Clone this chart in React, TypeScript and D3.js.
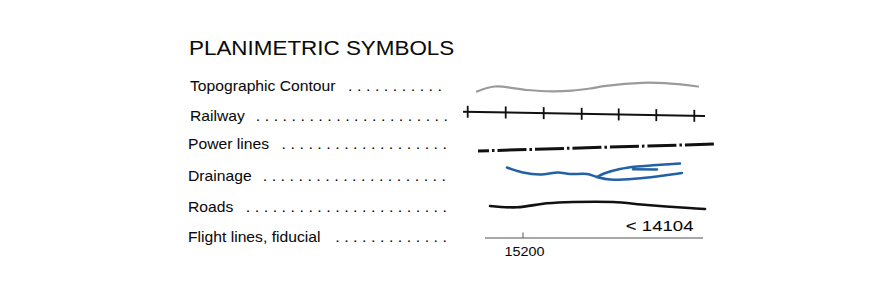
import React from "react";
import * as d3 from "d3";

// ---- data ----
const title = "PLANIMETRIC SYMBOLS";
const categories = [
  "Topographic Contour",
  "Railway",
  "Power lines",
  "Drainage",
  "Roads",
  "Flight lines, fiducial",
];
const leaderDots = [11, 22, 19, 21, 23, 13];

// symbol shapes in local units (x: along symbol, y: offset from row centre)
const contourPts: [number, number][] = [
  [12, 3.5], [30, -1.5], [62, 2], [87, 3.3], [107, 2.6], [125, 0.5],
  [141, -2.2], [177, -5.2], [200, -4.8], [233, -1.5],
];
const railwayPts: [number, number][] = [[-2, -2.3], [240, 2]];
const railwayTies = [2.7, 40.7, 78.7, 116.7, 153.7, 191.3, 229.3];
const powerPts: [number, number][] = [[13, 3.5], [250, -3.5]];
const drainMain: [number, number][] = [
  [42, -3.5], [58, 1.5], [75, 3.5], [93, 1.5], [105, 3], [122, 3], [132, 6],
  [145, 8.5], [172, 7.5], [195, 5], [217, 2],
];
const drainUpper: [number, number][] = [
  [132, 6], [139, 2.5], [155, -2], [172, -4.5], [188, -5.7], [215, -7.5],
];
const drainMiddle: [number, number][] = [[168, -1.7], [192, -1.5]];
const roadPts: [number, number][] = [
  [25, 1], [52, 2.3], [82, -1.7], [108, -3], [148, -3], [182, 0], [228, 3.3], [240, 4],
];
const flightExtent = [20, 238];
const fiducialTicks = [58];
const fiducialLabels = ["15200"];
const flightLineLabel = "< 14104";

// ---- layout ----
const W = 887;
const H = 296;
const FONT = "'Liberation Sans', Arial, Helvetica, sans-serif";
const labelX = [190, 190, 188, 188, 188, 188];
const baselines = [91, 121, 149, 181, 212, 242];
const dotsEnd = [440, 446, 445, 444, 445, 445];
const centers = [88, 114, 147.5, 171, 205, 238];

const xScale = d3.scaleLinear().domain([0, 250]).range([465, 715]);
const yFor = (i: number) => d3.scaleLinear().domain([-10, 10]).range([centers[i] - 10, centers[i] + 10]);

function Txt({ x, y, size, sx = 1.12, anchor = "start", fill = "#0a0a0a", children }: any) {
  return (
    <g transform={`translate(${x},${y}) scale(${sx},1)`}>
      <text fontSize={size} textAnchor={anchor} fill={fill} stroke={fill} strokeWidth={0.05} fontFamily={FONT}>
        {children}
      </text>
    </g>
  );
}

function pathFor(pts: [number, number][], row: number, curve: any = d3.curveCatmullRom) {
  const y = yFor(row);
  return d3
    .line<[number, number]>()
    .x((d) => xScale(d[0]))
    .y((d) => y(d[1]))
    .curve(curve)(pts) as string;
}

export default function App() {
  const yRail = yFor(1);
  const railY = d3.scaleLinear().domain([railwayPts[0][0], railwayPts[1][0]]).range([railwayPts[0][1], railwayPts[1][1]]);
  const yFl = yFor(5);
  return (
    <svg width={W} height={H} style={{ position: "absolute", left: 0, top: 0, background: "#fff" }}>
      <rect width={W} height={H} fill="#fff" />
      <Txt x={189} y={55} size={19.5} sx={1.15}>{title}</Txt>
      {categories.map((c, i) => (
        <g key={c}>
          <Txt x={labelX[i]} y={baselines[i]} size={14}>{c}</Txt>
          <Txt x={dotsEnd[i] + 2} y={baselines[i]} size={14} sx={1.15} anchor="end">
            {Array(leaderDots[i]).fill(".").join(" ")}
          </Txt>
        </g>
      ))}

      {/* Topographic contour */}
      <path d={pathFor(contourPts, 0)} fill="none" stroke="#9b9b9b" strokeWidth={2.2} strokeLinecap="round" />

      {/* Railway */}
      <path d={pathFor(railwayPts, 1, d3.curveLinear)} fill="none" stroke="#111" strokeWidth={2} />
      {railwayTies.map((t, k) => (
        <line
          key={k}
          x1={xScale(t)}
          x2={xScale(t)}
          y1={yRail(railY(t)) - 6}
          y2={yRail(railY(t)) + 6}
          stroke="#111"
          strokeWidth={1.8}
        />
      ))}

      {/* Power lines */}
      <path
        d={pathFor(powerPts, 2, d3.curveLinear)}
        fill="none"
        stroke="#111"
        strokeWidth={3}
        strokeDasharray="29,3,2.5,3"
        strokeDashoffset={18}
      />

      {/* Drainage */}
      {[drainMain, drainUpper, drainMiddle].map((p, k) => (
        <path key={k} d={pathFor(p, 3)} fill="none" stroke="#2260a8" strokeWidth={2.5} strokeLinecap="round" strokeLinejoin="round" />
      ))}

      {/* Roads */}
      <path d={pathFor(roadPts, 4)} fill="none" stroke="#111" strokeWidth={2.6} strokeLinecap="round" />

      {/* Flight lines, fiducial */}
      <line x1={xScale(flightExtent[0])} x2={xScale(flightExtent[1])} y1={yFl(0)} y2={yFl(0)} stroke="#8a8a8a" strokeWidth={1.3} />
      {fiducialTicks.map((t, k) => (
        <g key={k}>
          <line x1={xScale(t)} x2={xScale(t)} y1={yFl(-5.5)} y2={yFl(0)} stroke="#555" strokeWidth={1} />
          <Txt x={xScale(t) + 1.5} y={256} size={12} sx={1.2} anchor="middle">{fiducialLabels[k]}</Txt>
        </g>
      ))}
      <Txt x={693.5} y={230.7} size={15.5} sx={1.2} anchor="end">{flightLineLabel}</Txt>
    </svg>
  );
}
